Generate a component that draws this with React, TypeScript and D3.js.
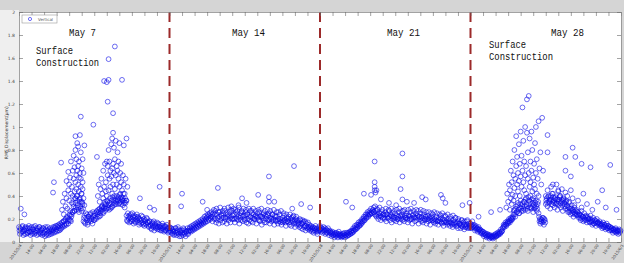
import React, { useEffect, useRef } from 'react';
import * as d3 from 'd3';

// hourly RMS vertical displacement (um), one value per hour, one array per week
const week1 = [
  .13, .07, .11, .09, .14, .06, .10, .12, .07, .12, .08, .14,
  .09, .06, .13, .08, .11, .07, .14, .10, .06, .12, .09, .13,
  .07, .11, .06, .12, .08, .05, .11, .07, .13, .06, .09, .12,
  .07, .11, .13, .08, .12, .14, .09, .13, .15, .10, .16, .12,
  .17, .13, .18, .14, .20, .15, .21, .16, .19, .23, .18, .24,
  .26, .31, .27, .34, .28, .36, .30, .26, .35, .29, .27, .33,
  .18, .23, .16, .21, .24, .17, .22, .19, .25, .20, .16, .23,
  .19, .25, .20, .27, .22, .26, .29, .23, .28, .31, .25, .30,
  .27, .33, .29, .35, .30, .34, .29, .36, .31, .37, .32, .36,
  .38, .33, .37, .39, .34, .38, .33, .37, .32, .36, .30, .34,
  .23, .18, .22, .17, .21, .24, .18, .22, .16, .21, .17, .20,
  .19, .21, .15, .20, .16, .19, .22, .16, .14, .19, .15, .20,
  .17, .13, .18, .14, .11, .17, .13, .10, .16, .12, .17, .13,
  .13, .15, .10, .14, .16, .11, .09, .14, .10, .15, .12, .09,
];

const week2 = [
  .13, .09, .12, .07, .10, .06, .09, .12, .06, .08, .11, .05,
  .08, .05, .10, .06, .11, .07, .05, .09, .12, .07, .10, .13,
  .09, .14, .10, .15, .11, .16, .12, .17, .13, .18, .14, .19,
  .15, .20, .16, .22, .17, .23, .18, .24, .19, .25, .20, .26,
  .18, .25, .20, .27, .17, .24, .21, .16, .26, .19, .23, .17,
  .25, .18, .27, .21, .16, .24, .19, .26, .17, .22, .27, .20,
  .24, .17, .26, .20, .27, .22, .16, .25, .19, .26, .18, .23,
  .19, .26, .17, .24, .16, .22, .27, .18, .25, .17, .24, .20,
  .23, .16, .25, .19, .26, .18, .22, .15, .21, .25, .17, .23,
  .17, .24, .19, .25, .16, .21, .18, .24, .20, .15, .22, .18,
  .22, .16, .20, .24, .17, .15, .21, .18, .23, .19, .14, .21,
  .18, .22, .15, .20, .14, .19, .22, .16, .13, .20, .15, .19,
  .17, .13, .19, .12, .16, .11, .18, .14, .10, .16, .13, .11,
  .15, .10, .14, .09, .13, .08, .12, .14, .09, .07, .12, .10,
];

const week3 = [
  .14, .09, .12, .08, .13, .10, .07, .11, .08, .12, .06, .10,
  .08, .05, .09, .06, .04, .08, .05, .07, .04, .09, .05, .06,
  .04, .07, .05, .08, .04, .06, .05, .08, .06, .09, .07, .10,
  .08, .12, .10, .14, .11, .15, .13, .17, .14, .18, .16, .20,
  .18, .22, .19, .24, .21, .26, .22, .27, .24, .29, .25, .28,
  .30, .24, .27, .22, .28, .20, .25, .23, .19, .26, .21, .24,
  .20, .26, .18, .24, .21, .27, .19, .23, .17, .25, .22, .19,
  .25, .18, .23, .20, .26, .17, .22, .24, .19, .27, .18, .23,
  .21, .25, .17, .23, .19, .26, .20, .16, .24, .21, .18, .25,
  .19, .23, .16, .22, .25, .18, .21, .17, .24, .19, .22, .16,
  .23, .18, .21, .15, .22, .19, .24, .17, .20, .16, .22, .18,
  .15, .21, .18, .23, .16, .20, .14, .19, .22, .17, .15, .20,
  .18, .14, .20, .16, .13, .19, .15, .21, .14, .17, .12, .18,
  .16, .12, .19, .14, .17, .11, .15, .13, .18, .12, .16, .14,
];

const week4 = [
  .16, .12, .18, .13, .15, .10, .14, .12, .09, .13, .11, .08,
  .10, .07, .09, .05, .08, .06, .04, .07, .05, .03, .06, .04,
  .05, .03, .06, .04, .07, .05, .08, .06, .09, .07, .11, .09,
  .12, .15, .13, .17, .14, .18, .16, .20, .17, .21, .19, .22,
  .24, .28, .22, .31, .26, .34, .25, .30, .36, .27, .33, .29,
  .35, .28, .38, .31, .27, .36, .30, .40, .29, .34, .26, .32,
  .30, .36, .27, .33, .25, .18, .16, .20, .17, .21, .15, .19,
  .33, .38, .31, .40, .35, .29, .37, .42, .32, .36, .30, .39,
  .34, .28, .37, .32, .40, .30, .35, .27, .38, .33, .29, .36,
  .31, .26, .34, .29, .24, .32, .27, .22, .30, .25, .28, .23,
  .26, .21, .24, .19, .27, .22, .18, .25, .20, .23, .17, .22,
  .20, .17, .23, .18, .15, .21, .16, .19, .14, .20, .17, .15,
  .18, .14, .16, .12, .17, .13, .15, .11, .16, .12, .14, .10,
  .13, .10, .12, .08, .11, .09, .12, .08, .10, .07, .11, .09,
];

// second reading of each hour (taken at half past), one array per week
const week1b = [
  .10, .12, .08, .13, .09, .11, .07, .13, .10, .08, .12, .09,
  .12, .09, .07, .11, .13, .09, .08, .12, .10, .07, .13, .08,
  .10, .08, .12, .07, .10, .13, .06, .10, .08, .11, .07, .09,
  .10, .08, .10, .13, .09, .11, .14, .10, .12, .14, .11, .15,
  .14, .18, .15, .19, .16, .22, .18, .20, .24, .19, .22, .26,
  .33, .27, .38, .30, .40, .32, .28, .37, .31, .42, .34, .29,
  .21, .17, .25, .19, .15, .22, .20, .24, .18, .21, .26, .19,
  .23, .21, .26, .24, .28, .22, .25, .27, .31, .26, .29, .33,
  .31, .29, .36, .32, .28, .38, .33, .30, .39, .34, .40, .33,
  .35, .40, .36, .33, .41, .35, .39, .36, .42, .34, .38, .36,
  .19, .25, .20, .23, .18, .20, .25, .19, .23, .18, .22, .24,
  .22, .17, .20, .18, .23, .17, .15, .20, .18, .16, .21, .17,
  .14, .18, .15, .12, .16, .14, .18, .15, .13, .14, .11, .16,
  .11, .13, .12, .10, .12, .14, .13, .10, .13, .11, .08, .12,
];

const week2b = [
  .10, .12, .08, .11, .09, .07, .12, .08, .10, .13, .07, .09,
  .10, .07, .08, .12, .08, .10, .09, .07, .10, .09, .12, .10,
  .12, .11, .13, .12, .14, .13, .15, .14, .16, .15, .17, .16,
  .18, .17, .19, .18, .20, .21, .22, .20, .23, .21, .22, .24,
  .22, .28, .24, .20, .29, .19, .26, .22, .30, .24, .21, .27,
  .21, .29, .20, .25, .22, .30, .23, .21, .28, .20, .23, .29,
  .20, .28, .21, .24, .19, .30, .21, .23, .27, .22, .29, .20,
  .23, .28, .24, .20, .29, .19, .22, .27, .21, .29, .20, .22,
  .27, .22, .21, .28, .19, .23, .29, .22, .24, .19, .27, .20,
  .22, .28, .23, .19, .27, .20, .24, .19, .28, .23, .19, .26,
  .19, .26, .18, .20, .27, .19, .17, .25, .19, .17, .24, .18,
  .20, .17, .24, .17, .21, .18, .23, .19, .17, .22, .18, .16,
  .15, .20, .14, .16, .19, .17, .13, .18, .14, .12, .17, .13,
  .12, .13, .11, .12, .10, .12, .10, .11, .12, .09, .10, .11,
];

const week3b = [
  .11, .12, .10, .11, .09, .12, .10, .08, .10, .09, .08, .09,
  .07, .08, .06, .07, .07, .06, .08, .06, .07, .06, .07, .05,
  .06, .05, .07, .06, .06, .08, .07, .06, .08, .07, .09, .08,
  .10, .09, .12, .11, .13, .12, .15, .14, .16, .15, .18, .17,
  .20, .19, .22, .21, .24, .23, .25, .24, .26, .25, .27, .26,
  .26, .31, .23, .29, .24, .22, .30, .25, .22, .28, .24, .21,
  .23, .29, .24, .21, .28, .22, .24, .29, .22, .20, .27, .21,
  .21, .28, .20, .22, .29, .23, .20, .27, .22, .20, .28, .21,
  .23, .20, .28, .22, .20, .29, .21, .23, .27, .22, .21, .28,
  .21, .27, .22, .20, .28, .22, .19, .27, .20, .22, .26, .20,
  .20, .26, .19, .20, .25, .21, .19, .26, .18, .19, .25, .18,
  .19, .24, .20, .17, .25, .18, .17, .23, .18, .17, .24, .16,
  .17, .22, .17, .15, .23, .16, .17, .21, .16, .14, .20, .16,
  .15, .14, .19, .13, .15, .18, .13, .15, .19, .13, .14, .12,
];

const week4b = [
  .14, .15, .13, .14, .12, .13, .11, .12, .11, .10, .11, .09,
  .08, .09, .07, .07, .06, .07, .05, .06, .06, .05, .04, .05,
  .04, .05, .05, .06, .05, .06, .07, .07, .08, .08, .09, .10,
  .13, .14, .15, .15, .16, .17, .18, .18, .19, .20, .20, .21,
  .27, .24, .29, .26, .32, .28, .25, .33, .29, .31, .27, .35,
  .31, .37, .33, .29, .39, .33, .35, .30, .37, .31, .36, .29,
  .34, .31, .29, .35, .22, .20, .18, .19, .21, .18, .20, .17,
  .36, .34, .39, .34, .37, .40, .33, .35, .39, .34, .37, .33,
  .37, .33, .35, .39, .34, .37, .32, .36, .34, .31, .35, .32,
  .28, .30, .26, .27, .29, .25, .28, .26, .24, .27, .24, .26,
  .23, .24, .21, .23, .20, .22, .21, .19, .22, .19, .21, .20,
  .18, .20, .17, .19, .18, .16, .19, .17, .18, .16, .17, .16,
  .16, .15, .14, .15, .13, .15, .13, .14, .12, .14, .12, .13,
  .11, .12, .10, .11, .10, .11, .09, .10, .09, .10, .08, .10,
];

// extra samples during the surface construction bursts: [hour from start, um]
const burst1 = [
  [48, .28], [49, .35], [50, .24], [51, .42], [52, .31], [53, .53], [53, .38], [54, .29],
  [55, .45], [55, .61], [56, .36], [56, .5], [57, .27], [57, .56], [58, .42], [58, .7],
  [59, .34], [59, .48], [60, .62], [60, .4], [61, .55], [61, .75], [62, .44], [62, .65],
  [63, .38], [63, .8], [63, .52], [64, .58], [64, .72], [64, .46], [65, .86], [65, .62],
  [65, .4], [66, .66], [66, .83], [66, .5], [67, .56], [67, .44], [67, .7], [68, .93],
  [68, .6], [68, .38], [69, .48], [69, .78], [69, .55], [70, .42], [70, .64], [70, .35],
  [71, .52], [71, .46], [71, .72], [72, .38], [72, .6], [73, .32], [73, .84],
  [88, .4], [89, .5], [90, .35], [91, .46], [92, .3], [92, .55], [93, .42], [94, .38],
  [94, .62], [95, .48], [96, .35], [96, .68], [97, .52], [97, .44], [98, .7], [98, .4],
  [99, .58], [99, .66], [100, .45], [100, .8], [101, .55], [101, .7], [102, .62], [102, .48],
  [103, .85], [103, .57], [104, .64], [104, .42], [104, .9], [105, .68], [105, .5], [106, .6],
  [106, .82], [107, .72], [107, .46], [108, .88], [108, .58], [109, .66], [109, .5], [110, .78],
  [110, .62], [111, .55], [111, .7], [112, .48], [112, .86], [113, .6], [113, .42], [114, .52],
  [114, .68], [115, .45], [116, .58], [116, .38], [117, .5], [117, .84], [118, .42], [119, .55],
  [120, .36], [121, .48],
];

const burst4 = [
  [544, .3], [545, .42], [546, .35], [547, .5], [548, .28], [548, .45], [549, .38], [549, .62],
  [550, .33], [550, .52], [551, .7], [551, .41], [552, .58], [552, .36], [553, .47], [553, .8],
  [554, .55], [554, .4], [555, .66], [555, .92], [556, .5], [556, .74], [557, .44], [557, .6],
  [558, .85], [558, .53], [559, .4], [559, .68], [560, .96], [560, .57], [561, .48], [561, .75],
  [562, .62], [562, 1.17], [563, .52], [563, .88], [564, .45], [564, .7], [565, 1.0], [565, .58],
  [566, .66], [566, .42], [567, .95], [567, 1.24], [568, .55], [568, .78], [569, 1.27], [569, .6],
  [570, .48], [570, .9], [571, .7], [571, .52], [572, .96], [572, .62], [573, .44], [573, .8],
  [574, .56], [574, .38], [575, .68], [575, .5], [576, .86], [576, .46], [577, 1.0], [577, .6],
  [578, .72], [578, .42], [579, .55], [580, 1.05], [580, .4], [581, .64], [582, .78], [583, .5],
  [584, 1.08], [585, .62],
  [588, .4], [590, .45], [592, .36], [594, .48], [596, .42], [598, .38], [600, .5], [602, .44],
  [604, .4], [606, .46], [608, .37], [610, .43], [612, .4], [614, .35], [616, .45], [618, .38],
  [620, .32], [624, .36], [628, .3], [634, .33], [640, .28],
];

// isolated readings: [hour from start, um]
const outliers = [
  [2, .29], [6, .24], [38, .43], [39, .52], [47, .69], [63, .92], [69, 1.09], [83, 1.02],
  [87, .74], [95, 1.4], [98, 1.39], [99, 1.22], [100, 1.59], [100, 1.41], [105, 1.12], [105, .95],
  [107, 1.7], [115, 1.41], [120, .9], [135, .38], [146, .3], [151, .28], [157, .48],
  [181, .31], [182, .42], [205, .35], [210, .28], [222, .47], [237, .31], [245, .32], [249, .38],
  [254, .34], [267, .41], [279, .57], [279, .39], [279, .35], [285, .35], [305, .29], [307, .66],
  [315, .33], [325, .3],
  [365, .35], [372, .3], [385, .42], [393, .41], [397, .7], [397, .52], [397, .48], [397, .45],
  [398, .43], [399, .45], [404, .37], [413, .34], [421, .32], [426, .46], [428, .77], [428, .57],
  [428, .37], [433, .35], [441, .34], [450, .39], [454, .37], [471, .41], [473, .38], [476, .34],
  [495, .32], [503, .34],
  [513, .22], [527, .26], [537, .28], [590, .93], [590, .78], [596, .5], [602, .45], [610, .74],
  [610, .62], [616, .57], [618, .82], [621, .74], [628, .68], [630, .42], [638, .65], [646, .35],
  [651, .45], [655, .3], [660, .67], [667, .28],
];

const weekLabels = ['May 7', 'May 14', 'May 21', 'May 28'];
const yTicks = [0, 0.2, 0.4, 0.6, 0.8, 1, 1.2, 1.4, 1.6, 1.8, 2];

const START = new Date(2015, 4, 4);
const WEEK = 168;
const hourToDate = (h: number) => new Date(START.getTime() + h * 3600e3);

export default function App() {
  const svgRef = useRef<SVGSVGElement>(null);

  useEffect(() => {
    const width = 624, height = 263;
    const left = 19, right = 621, top = 12, bottom = 242;

    const svg = d3.select(svgRef.current).attr('width', width).attr('height', height);
    svg.selectAll('*').remove();

    // figure background
    svg.append('rect').attr('width', width).attr('height', height).attr('fill', '#d5d5d5');
    svg.append('rect').attr('x', 0).attr('y', 10).attr('width', left).attr('height', bottom - 10).attr('fill', '#efefef');
    svg.append('rect').attr('x', left).attr('y', top).attr('width', right - left).attr('height', bottom - top).attr('fill', '#fff');

    const x = d3.scaleTime().domain([START, hourToDate(4 * WEEK)]).range([left, right]);
    const y = d3.scaleLinear().domain([0, 2]).range([bottom, top]);

    const tickDates = d3.range(0, 4 * WEEK + 1, 14).map(hourToDate);
    const fmtDay = d3.timeFormat('%Y/%-m/%-d');
    const fmtHour = d3.timeFormat('%H:%M');
    const fmt = (d: Date) => {
      const h = Math.round((d.getTime() - START.getTime()) / 3600e3);
      return h % WEEK === 0 ? fmtDay(d) : fmtHour(d);
    };

    // all points
    const points: { h: number; v: number }[] = [];
    [week1, week2, week3, week4].forEach((w, k) => w.forEach((v, i) => points.push({ h: k * WEEK + i, v })));
    [week1b, week2b, week3b, week4b].forEach((w, k) => w.forEach((v, i) => points.push({ h: k * WEEK + i + 0.5, v })));
    burst1.forEach(([h, v]) => points.push({ h, v }));
    burst4.forEach(([h, v]) => points.push({ h, v }));
    outliers.forEach(([h, v]) => points.push({ h, v }));

    svg.append('g')
      .selectAll('circle')
      .data(points)
      .enter()
      .append('circle')
      .attr('cx', (d) => x(hourToDate(d.h)))
      .attr('cy', (d) => y(d.v))
      .attr('r', 2.4)
      .attr('fill', 'none')
      .attr('stroke', '#0c0ce8')
      .attr('stroke-opacity', 0.75)
      .attr('stroke-width', 0.8);

    // week separators
    svg.append('g')
      .selectAll('line')
      .data([1, 2, 3])
      .enter()
      .append('line')
      .attr('x1', (k) => x(hourToDate(k * WEEK)))
      .attr('x2', (k) => x(hourToDate(k * WEEK)))
      .attr('y1', top)
      .attr('y2', bottom)
      .attr('stroke', '#9c2a2a')
      .attr('stroke-width', 2)
      .attr('stroke-dasharray', '10,6');

    const styleAxis = (g: any) => {
      g.select('.domain').attr('stroke', '#8a8a8a').attr('stroke-width', 0.8);
      g.selectAll('.tick line').attr('stroke', '#666').attr('stroke-width', 0.6);
      g.selectAll('.tick text').attr('fill', '#444').style('font-size', '4.5px').style('font-family', 'DejaVu Sans');
    };

    // bottom axis
    svg.append('g')
      .attr('transform', `translate(0,${bottom})`)
      .call(d3.axisBottom(x).tickValues(tickDates).tickFormat(fmt as any).tickSize(-4).tickSizeOuter(0).tickPadding(3))
      .call(styleAxis)
      .selectAll('.tick text')
      .style('font-size', '4px')
      .attr('text-anchor', 'end')
      .attr('dy', '0.3em')
      .attr('transform', 'translate(-1,1) rotate(-55)');

    // top axis (ticks only)
    svg.append('g')
      .attr('transform', `translate(0,${top})`)
      .call(d3.axisTop(x).tickValues(tickDates).tickFormat(() => '').tickSize(-4).tickSizeOuter(0))
      .call(styleAxis);

    // left axis
    svg.append('g')
      .attr('transform', `translate(${left},0)`)
      .call(d3.axisLeft(y).tickValues(yTicks).tickFormat((d: any) => String(+(+d).toFixed(1))).tickSize(-4).tickSizeOuter(0).tickPadding(4))
      .call(styleAxis);

    // right axis (ticks only)
    svg.append('g')
      .attr('transform', `translate(${right},0)`)
      .call(d3.axisRight(y).tickValues(yTicks).tickFormat(() => '').tickSize(-4).tickSizeOuter(0))
      .call(styleAxis);

    // y label
    svg.append('text')
      .attr('transform', `translate(8,${y(0.95)}) rotate(-90)`)
      .attr('text-anchor', 'middle')
      .style('font-family', 'DejaVu Sans')
      .style('font-size', '4.5px')
      .attr('fill', '#333')
      .text('RMS Displacement(\u03bcm)');

    // legend
    const lg = svg.append('g');
    lg.append('rect').attr('x', 22).attr('y', 15).attr('width', 35).attr('height', 8)
      .attr('fill', '#fff').attr('stroke', '#999').attr('stroke-width', 0.6);
    lg.append('circle').attr('cx', 30).attr('cy', 19).attr('r', 1.6)
      .attr('fill', 'none').attr('stroke', '#1414f0').attr('stroke-width', 0.6);
    lg.append('text').attr('x', 38).attr('y', 20.5)
      .style('font-family', 'DejaVu Sans').style('font-size', '4px').attr('fill', '#555').text('Vertical');

    // annotations
    const notes = [
      { text: weekLabels[0], x: 69, y: 36, len: 27 },
      { text: weekLabels[1], x: 232, y: 36, len: 33 },
      { text: weekLabels[2], x: 387, y: 36, len: 33 },
      { text: weekLabels[3], x: 551, y: 36, len: 33 },
      { text: 'Surface', x: 36, y: 54, len: 37 },
      { text: 'Construction', x: 36, y: 65.5, len: 63 },
      { text: 'Surface', x: 489, y: 48, len: 37 },
      { text: 'Construction', x: 489, y: 60, len: 64 },
    ];
    svg.append('g')
      .selectAll('text')
      .data(notes)
      .enter()
      .append('text')
      .attr('x', (d) => d.x)
      .attr('y', (d) => d.y)
      .attr('textLength', (d) => d.len)
      .attr('lengthAdjust', 'spacingAndGlyphs')
      .style('font-family', 'Liberation Mono')
      .style('font-size', '11px')
      .attr('fill', '#111')
      .text((d) => d.text);
  }, []);

  return <svg ref={svgRef} style={{ position: 'fixed', left: 0, top: 0 }}></svg>;
}
